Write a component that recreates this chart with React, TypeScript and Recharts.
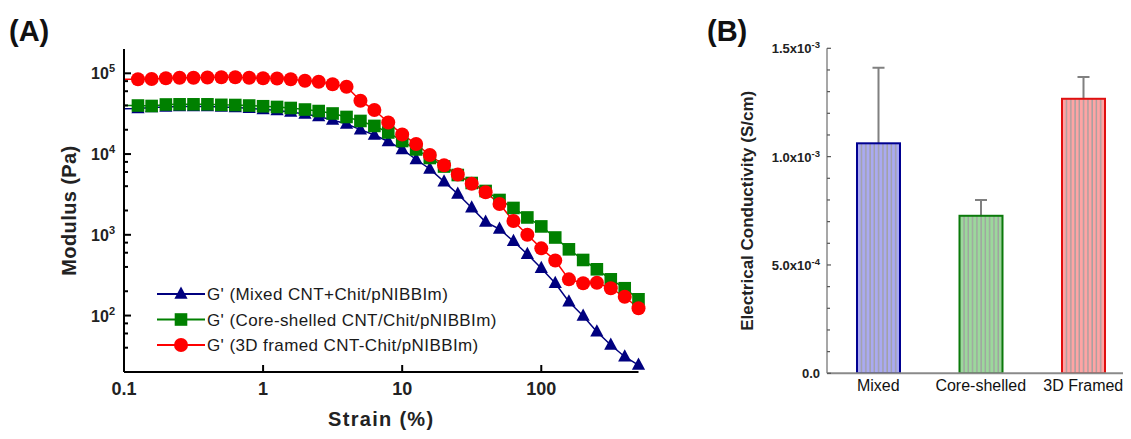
import React from 'react';
import { LineChart, Line, XAxis, YAxis, Legend, BarChart, Bar } from 'recharts';

const FONT = '"Liberation Sans", Arial, Helvetica, sans-serif';

// ---------- Panel A data ----------
const strain = [
  0.1, 0.126, 0.158, 0.2, 0.251, 0.316, 0.398, 0.501, 0.631, 0.794,
  1, 1.26, 1.58, 2, 2.51, 3.16, 3.98, 5.01, 6.31, 7.94,
  10, 12.6, 15.8, 20, 25.1, 31.6, 39.8, 50.1, 63.1, 79.4,
  100, 126, 158, 200, 251, 316, 398, 500,
];
const gMixed = [
  36500, 36700, 37700, 38300, 38800, 38800, 38800, 38300, 37700, 36900,
  35800, 34600, 33200, 31300, 29200, 26400, 23600, 20100, 17200, 14300,
  11400, 8560, 6530, 4550, 3200, 2160, 1440, 1180, 833, 575,
  385, 251, 148, 98.7, 63.1, 43.2, 30.9, 24.4,
];
const gCore = [
  40000, 39900, 39400, 41100, 41300, 41300, 41300, 40700, 40500, 39900,
  39100, 38300, 37200, 35600, 34100, 31800, 28800, 25700, 22300, 18500,
  14500, 11400, 8940, 7010, 5500, 4380, 3490, 2700, 2150, 1640,
  1270, 926, 661, 488, 374, 281, 218, 159,
];
const gFramed = [
  84300, 84300, 85000, 86700, 88200, 88200, 88700, 89200, 89200, 88200,
  86700, 86200, 84300, 81000, 78700, 73100, 68200, 45800, 35100, 24600,
  17500, 13300, 9730, 7260, 5580, 4290, 3370, 2410, 1480, 1000,
  680, 481, 281, 251, 255, 218, 171, 123,
];

const strainTicks = [0.1, 1, 10, 100];
const strainTickLabels = ['0.1', '1', '10', '100'];
const modulusTicks = [
  40, 60, 80, 100, 200, 400, 600, 800, 1000, 2000, 4000, 6000, 8000,
  10000, 20000, 40000, 60000, 80000, 100000,
];
const modulusMajor = [100, 1000, 10000, 100000];
const modulusMajorExp = ['2', '3', '4', '5'];

const seriesKeys = ['mixed', 'core', 'framed'];
const seriesNames = [
  "G' (Mixed CNT+Chit/pNIBBIm)",
  "G' (Core-shelled CNT/Chit/pNIBBIm)",
  "G' (3D framed CNT-Chit/pNIBBIm)",
];
const seriesColors = ['#00007f', '#008000', '#ff0000'];
const seriesMarkers = ['tri', 'sq', 'circ'];

// ---------- Panel B data ----------
const samples = ['Mixed', 'Core-shelled', '3D Framed'];
const conductivity = [1.0615e-3, 7.27e-4, 1.267e-3];
const conductivityErr = [3.485e-4, 7.3e-5, 1.0e-4];
const barStroke = ['#000090', '#0a7a0a', '#e01010'];
const barFill = ['#aaaaf2', '#9cd89c', '#ffa4a4'];
const condTicks = [
  0, 0.0001, 0.0002, 0.0003, 0.0004, 0.0005, 0.0006, 0.0007, 0.0008,
  0.0009, 0.001, 0.0011, 0.0012, 0.0013, 0.0014, 0.0015,
];
const condMajor = [0, 0.0005, 0.001, 0.0015];
const condMantissa = ['0.0', '5.0x10', '1.0x10', '1.5x10'];
const condExp = ['', '-4', '-3', '-3'];

const modulusData = strain.map((s, i) => ({
  strain: s,
  mixed: gMixed[i],
  core: gCore[i],
  framed: gFramed[i],
}));
const condData = samples.map((n, i) => ({
  name: n,
  value: conductivity[i],
  err: conductivityErr[i],
  idx: i,
}));

// ---------- markers ----------
const marker = (kind: string, cx: number, cy: number, color: string, key?: string) => {
  if (kind === 'tri')
    return (
      <polygon
        key={key}
        points={`${cx},${cy - 7.5} ${cx - 6.6},${cy + 4.8} ${cx + 6.6},${cy + 4.8}`}
        fill={color}
      />
    );
  if (kind === 'sq')
    return <rect key={key} x={cx - 6.3} y={cy - 6.3} width={12.6} height={12.6} fill={color} />;
  return <circle key={key} cx={cx} cy={cy} r={7} fill={color} />;
};

const makeDot = (kind: string, color: string) => (props: any) => {
  const { cx, cy, index } = props;
  if (index === 0 || cx == null || cy == null) return <g key={`e-${kind}-${index}`} />;
  return marker(kind, cx, cy, color, `${kind}-${index}`);
};

// ---------- ticks ----------
const XTick = (props: any) => {
  const { x, y, payload } = props;
  const i = strainTicks.findIndex((t) => Math.abs(t - payload.value) < 1e-9);
  return (
    <g>
      <line x1={x} x2={x} y1={y} y2={y - 7} stroke="#000" strokeWidth={2} />
      <text x={x} y={y + 23} textAnchor="middle" fontSize={18} fontWeight="bold" fontFamily={FONT} fill="#222">
        {i >= 0 ? strainTickLabels[i] : ''}
      </text>
    </g>
  );
};

const YTick = (props: any) => {
  const { x, y, payload } = props;
  const i = modulusMajor.findIndex((t) => Math.abs(t - payload.value) < 1e-6);
  const major = i >= 0;
  return (
    <g>
      <line x1={x} x2={x + (major ? 7 : 4)} y1={y} y2={y} stroke="#000" strokeWidth={2} />
      {major && (
        <text x={x - 9} y={y + 6} textAnchor="end" fontSize={16} fontWeight="bold" fontFamily={FONT} fill="#222">
          10
          <tspan dy={-7} fontSize={11}>
            {modulusMajorExp[i]}
          </tspan>
        </text>
      )}
    </g>
  );
};

const CondTick = (props: any) => {
  const { x, y, payload } = props;
  const i = condMajor.findIndex((t) => Math.abs(t - payload.value) < 1e-9);
  return (
    <g>
      <line x1={x} x2={x + (i >= 0 ? 4 : 3)} y1={y} y2={y} stroke="#555" strokeWidth={1.2} />
      {i >= 0 && (
        <text x={x - 7} y={y + 5} textAnchor="end" fontSize={13} fontWeight="bold" fontFamily={FONT} fill="#222">
          {condMantissa[i]}
          {condExp[i] && (
            <tspan dy={-5} fontSize={9.5}>
              {condExp[i]}
            </tspan>
          )}
        </text>
      )}
    </g>
  );
};

const SampleTick = (props: any) => {
  const { x, y, payload } = props;
  return (
    <text x={x} y={y + 18} textAnchor="middle" fontSize={16} fontFamily={FONT} fill="#111">
      {payload.value}
    </text>
  );
};

const StripedBar = (props: any) => {
  const { x, y, width, height, payload } = props;
  const i = payload.idx;
  const id = `stripe-${i}`;
  const errTop = y - (payload.err * height) / payload.value;
  const cx = x + width / 2;
  return (
    <g>
      <defs>
        <pattern id={id} patternUnits="userSpaceOnUse" x={x + 1} y={0} width={4.27} height={10}>
          <rect width={4.27} height={10} fill={barFill[i]} />
          <rect x={2.9} width={1.3} height={10} fill="#a0a0a0" />
        </pattern>
      </defs>
      <line x1={cx} x2={cx} y1={y} y2={errTop} stroke="#808080" strokeWidth={2} />
      <line x1={cx - 6} x2={cx + 6} y1={errTop} y2={errTop} stroke="#808080" strokeWidth={2} />
      <rect x={x} y={y} width={width} height={height} fill={`url(#${id})`} stroke={barStroke[i]} strokeWidth={2} />
    </g>
  );
};

const renderLegend = () => (
  <svg width={380} height={80} style={{ display: 'block', overflow: 'visible' }}>
    {seriesNames.map((n, i) => {
      const cy = 14 + i * 25.5;
      return (
        <g key={n}>
          <line x1={7} x2={55} y1={cy} y2={cy} stroke={seriesColors[i]} strokeWidth={2} />
          {marker(seriesMarkers[i], 31, cy, seriesColors[i])}
          <text x={57} y={cy + 6} fontSize={17} letterSpacing={0.4} fontFamily={FONT} fill="#1a1a1a">
            {n}
          </text>
        </g>
      );
    })}
  </svg>
);

const App = () => {
  return (
    <div
      style={{
        position: 'relative',
        width: 1131,
        height: 439,
        margin: -8,
        overflow: 'hidden',
        background: '#fff',
        fontFamily: FONT,
      }}
    >
      <div style={{ position: 'absolute', left: 0, top: 0 }}>
        <LineChart width={700} height={439} data={modulusData} margin={{ top: 49, right: 61.5, bottom: 0, left: 0 }}>
          <XAxis
            xAxisId="b"
            dataKey="strain"
            type="number"
            scale="log"
            domain={[0.1, 500]}
            ticks={strainTicks}
            height={67}
            tickSize={0}
            tickMargin={0}
            tickLine={false}
            axisLine={{ stroke: '#000', strokeWidth: 2 }}
            tick={<XTick />}
            interval={0}
            label={{
              content: (p: any) => {
                const vb = p.viewBox;
                return (
                  <text
                    x={vb.x + vb.width / 2}
                    y={vb.y + 54}
                    textAnchor="middle"
                    fontSize={20}
                    fontWeight="bold"
                    letterSpacing={1.3}
                    fontFamily={FONT}
                    fill="#222"
                  >
                    Strain (%)
                  </text>
                );
              },
            }}
          />
          <XAxis
            xAxisId="t"
            orientation="top"
            type="number"
            scale="log"
            domain={[0.1, 500]}
            allowDataOverflow
            height={0}
            tick={false}
            tickLine={false}
            axisLine={{ stroke: '#000', strokeWidth: 2 }}
          />
          <YAxis
            yAxisId="l"
            type="number"
            scale="log"
            domain={[20, 200000]}
            ticks={modulusTicks}
            width={124}
            tickSize={0}
            tickMargin={0}
            tickLine={false}
            interval={0}
            axisLine={{ stroke: '#000', strokeWidth: 2 }}
            tick={<YTick />}
            label={{
              content: (p: any) => {
                const vb = p.viewBox;
                const cx = vb.x + 76;
                const cy = vb.y + vb.height / 2;
                return (
                  <text
                    x={cx}
                    y={cy}
                    transform={`rotate(-90 ${cx} ${cy})`}
                    textAnchor="middle"
                    fontSize={20}
                    fontWeight="bold"
                    letterSpacing={0.4}
                    fontFamily={FONT}
                    fill="#222"
                  >
                    Modulus (Pa)
                  </text>
                );
              },
            }}
          />
          <YAxis
            yAxisId="r"
            orientation="right"
            type="number"
            scale="log"
            domain={[20, 200000]}
            allowDataOverflow
            width={0}
            tick={false}
            tickLine={false}
            axisLine={{ stroke: '#000', strokeWidth: 2 }}
          />
          {seriesKeys.map((k, i) => (
            <Line
              key={k}
              xAxisId="b"
              yAxisId="l"
              dataKey={k}
              name={seriesNames[i]}
              type="linear"
              stroke={seriesColors[i]}
              strokeWidth={1.5}
              dot={makeDot(seriesMarkers[i], seriesColors[i])}
              activeDot={false}
              isAnimationActive={false}
            />
          ))}
          <Legend
            content={renderLegend}
            layout="vertical"
            align="center"
            verticalAlign="middle"
            wrapperStyle={{ left: 150, top: 280, width: 380, height: 80 }}
          />
        </LineChart>
      </div>

      <div style={{ position: 'absolute', left: 700, top: 0 }}>
        <BarChart
          width={440}
          height={439}
          data={condData}
          barSize={43}
          margin={{ top: 48.3, right: 5.5, bottom: 0, left: 0 }}
        >
          <XAxis
            dataKey="name"
            height={65.7}
            tickSize={0}
            tickMargin={0}
            tickLine={false}
            interval={0}
            axisLine={{ stroke: '#8a8a8a', strokeWidth: 2 }}
            tick={<SampleTick />}
          />
          <XAxis
            xAxisId="top"
            dataKey="name"
            orientation="top"
            height={0}
            tick={false}
            tickLine={false}
            axisLine={{ stroke: '#8a8a8a', strokeWidth: 1.2 }}
          />
          <YAxis
            type="number"
            domain={[0, 0.0015]}
            allowDataOverflow
            ticks={condTicks}
            interval={0}
            width={127}
            tickSize={0}
            tickMargin={0}
            tickLine={false}
            axisLine={{ stroke: '#8a8a8a', strokeWidth: 1.5 }}
            tick={<CondTick />}
            label={{
              content: (p: any) => {
                const vb = p.viewBox;
                const cx = vb.x + 53.5;
                const cy = vb.y + vb.height / 2;
                return (
                  <text
                    x={cx}
                    y={cy}
                    transform={`rotate(-90 ${cx} ${cy})`}
                    textAnchor="middle"
                    fontSize={17}
                    fontWeight="bold"
                    fontFamily={FONT}
                    fill="#222"
                  >
                    Electrical Conductivity (S/cm)
                  </text>
                );
              },
            }}
          />
          <Bar dataKey="value" shape={<StripedBar />} isAnimationActive={false} />
        </BarChart>
      </div>

      <svg
        width={1131}
        height={439}
        style={{ position: 'absolute', left: 0, top: 0, pointerEvents: 'none' }}
      >
        <text x={9} y={41} fontSize={29} fontWeight="bold" fontFamily={FONT} fill="#111">
          (A)
        </text>
        <text x={707} y={41} fontSize={29} fontWeight="bold" fontFamily={FONT} fill="#111">
          (B)
        </text>
      </svg>
    </div>
  );
};

export default App;
